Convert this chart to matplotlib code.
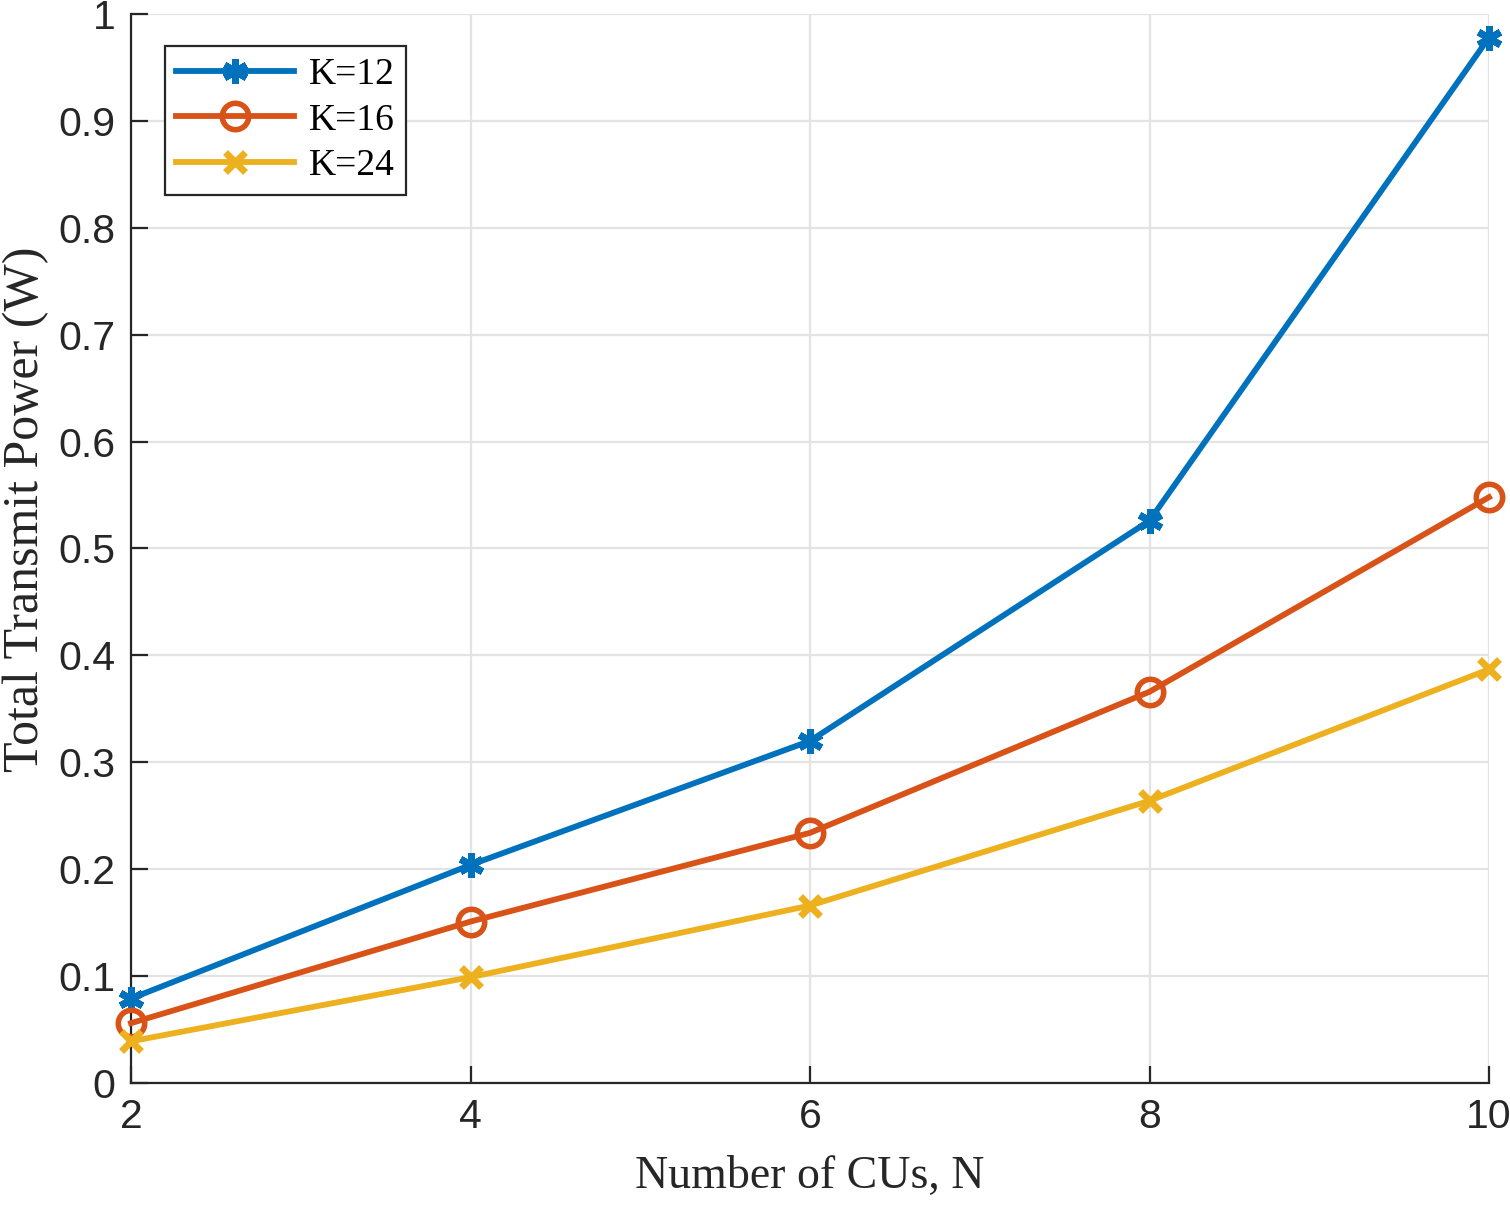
import matplotlib
matplotlib.use("Agg")
import matplotlib.pyplot as plt

N = [2, 4, 6, 8, 10]
k12 = [0.079, 0.204, 0.320, 0.526, 0.978]
k16 = [0.056, 0.151, 0.234, 0.366, 0.548]
k24 = [0.039, 0.099, 0.166, 0.264, 0.387]
labels = ["K=12", "K=16", "K=24"]
xticks = [2, 4, 6, 8, 10]
yticks = [0, 0.1, 0.2, 0.3, 0.4, 0.5, 0.6, 0.7, 0.8, 0.9, 1]
ytick_labels = ["0", "0.1", "0.2", "0.3", "0.4", "0.5", "0.6", "0.7", "0.8", "0.9", "1"]

fig = plt.figure(figsize=(15.10, 12.07), dpi=100)
ax = fig.add_axes([131/1510, 1 - 1083/1207, (1489-131)/1510, (1083-14)/1207])

lw = 4.2
ax.plot(N, k12, color="#0072BD", lw=lw, marker=(6, 2, 0), ms=18, mew=5, label=labels[0], zorder=3, clip_on=False)
ax.plot(N, k16, color="#D95319", lw=lw, marker="o", ms=19, mew=4, mfc="none", label=labels[1], zorder=3, clip_on=False)
ax.plot(N, k24, color="#EDB120", lw=lw, marker="x", ms=14, mew=5, label=labels[2], zorder=3, clip_on=False)

ax.set_xlim(2, 10)
ax.set_ylim(0, 1)
ax.set_xticks(xticks)
ax.set_xticklabels([str(x) for x in xticks])
ax.set_yticks(yticks)
ax.set_yticklabels(ytick_labels)
ax.grid(True, color="#e3e3e3", lw=1.6, zorder=0)
ax.set_axisbelow(True)
for s in ["top", "right"]:
    ax.spines[s].set_visible(False)
for s in ["left", "bottom"]:
    ax.spines[s].set_linewidth(1.6)
    ax.spines[s].set_color("#262626")
ax.tick_params(direction="in", length=12, width=1.6, colors="#262626",
               labelsize=29.5, pad=11)
for t in ax.get_xticklabels() + ax.get_yticklabels():
    t.set_family("Liberation Sans")

ax.set_xlabel("Number of CUs, N", family="Liberation Serif", fontsize=33, color="#262626", labelpad=14)
ax.set_ylabel("Total Transmit Power (W)", family="Liberation Serif", fontsize=36, color="#262626")
ax.yaxis.set_label_coords(-0.060, 0.537)

leg = ax.legend(loc="upper left", bbox_to_anchor=(0.025, 0.970), prop={"family": "Liberation Serif", "size": 27},
                fancybox=False, edgecolor="#262626", framealpha=1, handlelength=3.15,
                borderpad=0.3, labelspacing=0.3, handletextpad=0.4, borderaxespad=0)
leg.get_frame().set_linewidth(1.6)

fig.savefig("out.png", dpi=100)
